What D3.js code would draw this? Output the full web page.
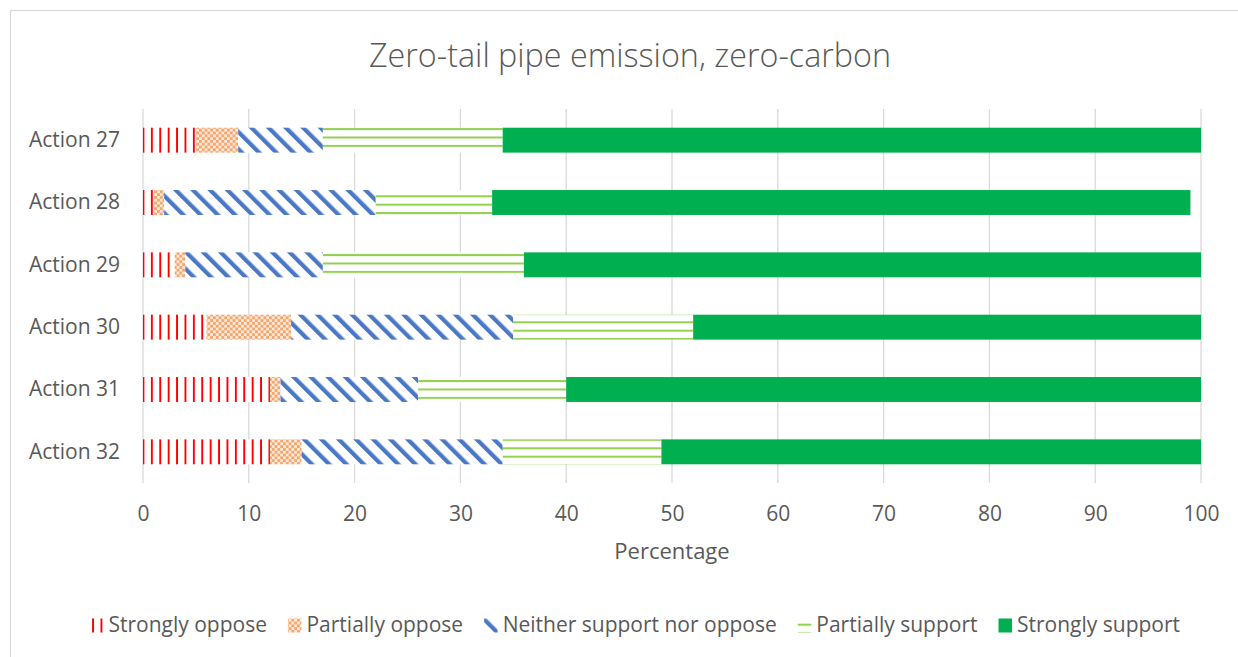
<!DOCTYPE html>
<html>
<head>
<meta charset="utf-8">
<script src="https://cdn.jsdelivr.net/npm/d3@7/dist/d3.min.js"></script>
<style>
  html, body { margin: 0; padding: 0; background: #ffffff; }
  svg { display: block; font-family: "Open Sans", "Liberation Sans", sans-serif; }
</style>
</head>
<body>
<svg id="chart" width="1238" height="657"></svg>
<script>
// ---- data ----
const categories = ["Action 27", "Action 28", "Action 29", "Action 30", "Action 31", "Action 32"];
const seriesNames = ["Strongly oppose", "Partially oppose", "Neither support nor oppose", "Partially support", "Strongly support"];
const stronglyOppose   = [5, 1, 3, 6, 12, 12];
const partiallyOppose  = [4, 1, 1, 8, 1, 3];
const neitherSupport   = [8, 20, 13, 21, 13, 19];
const partiallySupport = [17, 11, 19, 17, 14, 15];
const stronglySupport  = [66, 66, 64, 48, 60, 51];
const xTicks = [0, 10, 20, 30, 40, 50, 60, 70, 80, 90, 100];
const titleText = "Zero-tail pipe emission, zero-carbon";
const xAxisTitle = "Percentage";

// ---- build table ----
const seriesKeys = ["so", "po", "ne", "ps", "ss"];
const seriesValues = [stronglyOppose, partiallyOppose, neitherSupport, partiallySupport, stronglySupport];
const table = categories.map((c, i) => {
  const row = { category: c };
  seriesKeys.forEach((k, j) => row[k] = seriesValues[j][i]);
  return row;
});
const stacked = d3.stack().keys(seriesKeys)(table);

// ---- layout ----
const W = 1238, H = 657;
const plot = { left: 143, right: 1201, top: 109, bottom: 483 };
const textColor = "#595959";
const gridColor = "#D9D9D9";
const fontSize = 21;

const svg = d3.select("#chart");
svg.append("rect").attr("width", W).attr("height", H).attr("fill", "#fff");
svg.append("rect").attr("x", 10.5).attr("y", 10.5).attr("width", 1245).attr("height", 665)
  .attr("fill", "none").attr("stroke", gridColor).attr("stroke-width", 1.2);

// ---- patterns ----
const defs = svg.append("defs");
// strongly oppose: red vertical lines
const pSO = defs.append("pattern").attr("id", "pSO").attr("patternUnits", "userSpaceOnUse")
  .attr("x", 142.5).attr("y", 0).attr("width", 8.4).attr("height", 8.4);
pSO.append("rect").attr("width", 8.4).attr("height", 8.4).attr("fill", "#fff");
pSO.append("rect").attr("x", 0).attr("width", 1.9).attr("height", 8.4).attr("fill", "#FF0000");

// partially oppose: orange lattice
const pPO = defs.append("pattern").attr("id", "pPO").attr("patternUnits", "userSpaceOnUse")
  .attr("x", 143).attr("y", 0).attr("width", 5.6).attr("height", 5.6);
pPO.append("rect").attr("width", 5.6).attr("height", 5.6).attr("fill", "#FDE9DA");
pPO.append("rect").attr("x", 0).attr("y", 0).attr("width", 2.8).attr("height", 2.8).attr("fill", "#F4A66D");
pPO.append("rect").attr("x", 2.8).attr("y", 2.8).attr("width", 2.8).attr("height", 2.8).attr("fill", "#F4A66D");

// neither: blue wide downward diagonal
const pNE = defs.append("pattern").attr("id", "pNE").attr("patternUnits", "userSpaceOnUse")
  .attr("width", 12.2).attr("height", 12.2).attr("patternTransform", "rotate(-45)");
pNE.append("rect").attr("width", 12.2).attr("height", 12.2).attr("fill", "#fff");
pNE.append("rect").attr("x", 0).attr("width", 4.2).attr("height", 12.2).attr("fill", "#4A78C6");

// partially support: green horizontal lines
const pPS = defs.append("pattern").attr("id", "pPS").attr("patternUnits", "userSpaceOnUse")
  .attr("x", 0).attr("y", 128.1).attr("width", 8.4).attr("height", 8.4);
pPS.append("rect").attr("width", 8.4).attr("height", 8.4).attr("fill", "#fff");
pPS.append("rect").attr("y", 0).attr("width", 8.4).attr("height", 2).attr("fill", "#92D050");

const fills = { so: "url(#pSO)", po: "url(#pPO)", ne: "url(#pNE)", ps: "url(#pPS)", ss: "#00B050" };

// ---- scales ----
const x = d3.scaleLinear().domain([0, 100]).range([plot.left, plot.right]);
const y = d3.scaleBand().domain(categories).range([plot.top, plot.bottom]).paddingInner(0.6).paddingOuter(0.3);

// ---- gridlines ----
svg.append("g").selectAll("line").data(xTicks).join("line")
  .attr("x1", d => x(d)).attr("x2", d => x(d))
  .attr("y1", plot.top).attr("y2", plot.bottom)
  .attr("stroke", gridColor).attr("stroke-width", 1.3);

// ---- title ----
svg.append("text").attr("x", 630).attr("y", 67).attr("text-anchor", "middle")
  .attr("fill", textColor).attr("font-size", 32.3).attr("font-weight", 300).text(titleText);

// ---- bars ----
svg.append("g").selectAll("g").data(stacked).join("g")
  .attr("fill", d => fills[d.key])
  .selectAll("rect").data(d => d).join("rect")
  .attr("x", d => x(d[0]))
  .attr("y", d => y(d.data.category))
  .attr("width", d => x(d[1]) - x(d[0]))
  .attr("height", y.bandwidth());

// ---- axes ----
const xAxis = svg.append("g").attr("transform", `translate(0,${plot.bottom})`)
  .call(d3.axisBottom(x).tickValues(xTicks).tickSize(0).tickPadding(23).tickFormat(d3.format("d")));
xAxis.select(".domain").remove();
xAxis.selectAll("text").attr("fill", textColor).attr("font-size", fontSize)
  .attr("font-family", "'Open Sans', sans-serif");

const yAxis = svg.append("g").attr("transform", `translate(${plot.left},0)`)
  .call(d3.axisLeft(y).tickSize(0).tickPadding(23));
yAxis.select(".domain").remove();
yAxis.selectAll("text").attr("fill", textColor).attr("font-size", fontSize)
  .attr("font-family", "'Open Sans', sans-serif");

svg.append("text").attr("x", (plot.left + plot.right) / 2).attr("y", 559)
  .attr("text-anchor", "middle").attr("fill", textColor).attr("font-size", 22)
  .text(xAxisTitle);

// ---- legend ----
const legend = svg.append("g");
const items = legend.selectAll("g").data(seriesKeys).join("g");
items.append("rect").attr("class", "mk").attr("y", 618.5).attr("width", 13.5).attr("height", 14)
  .attr("fill", d => fills[d]);
items.append("text").attr("y", 632).attr("fill", textColor).attr("font-size", fontSize)
  .text((d, i) => seriesNames[i]);
const markerW = 13.5, gapMT = 5, gapItem = 21;
const widths = [];
items.selectAll("text").each(function () { widths.push(this.getComputedTextLength()); });
const total = d3.sum(widths) + seriesKeys.length * (markerW + gapMT) + (seriesKeys.length - 1) * gapItem;
let cx = 635 - total / 2;
items.each(function (d, i) {
  const g = d3.select(this);
  g.select("rect").attr("x", cx);
  g.select("text").attr("x", cx + markerW + gapMT);
  cx += markerW + gapMT + widths[i] + gapItem;
});
</script>
</body>
</html>
